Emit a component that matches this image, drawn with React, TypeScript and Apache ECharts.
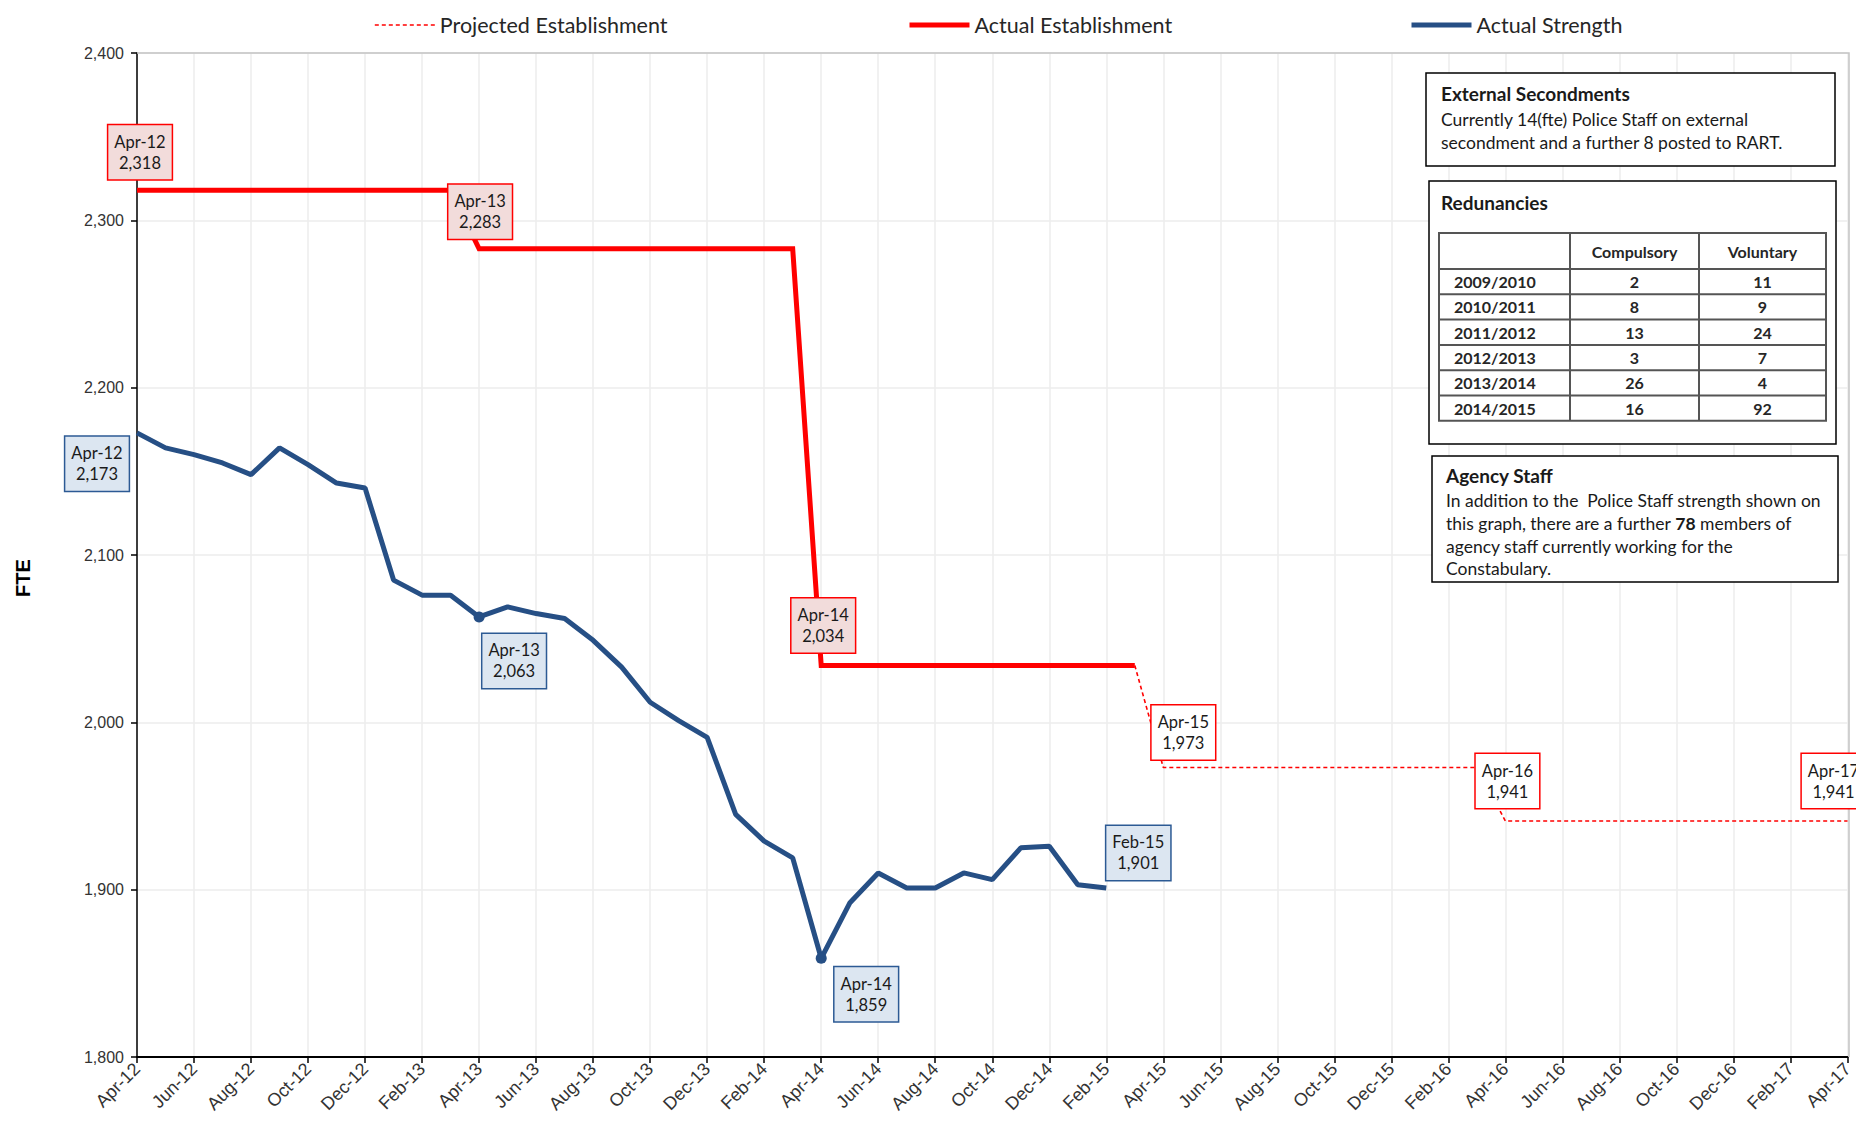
import React, { useEffect, useRef } from "react";
import * as echarts from "echarts";

const months = [
  "Apr-12", "May-12", "Jun-12", "Jul-12", "Aug-12", "Sep-12", "Oct-12", "Nov-12", "Dec-12", "Jan-13", "Feb-13", "Mar-13",
  "Apr-13", "May-13", "Jun-13", "Jul-13", "Aug-13", "Sep-13", "Oct-13", "Nov-13", "Dec-13", "Jan-14", "Feb-14", "Mar-14",
  "Apr-14", "May-14", "Jun-14", "Jul-14", "Aug-14", "Sep-14", "Oct-14", "Nov-14", "Dec-14", "Jan-15", "Feb-15", "Mar-15",
  "Apr-15", "May-15", "Jun-15", "Jul-15", "Aug-15", "Sep-15", "Oct-15", "Nov-15", "Dec-15", "Jan-16", "Feb-16", "Mar-16",
  "Apr-16", "May-16", "Jun-16", "Jul-16", "Aug-16", "Sep-16", "Oct-16", "Nov-16", "Dec-16", "Jan-17", "Feb-17", "Mar-17",
  "Apr-17",
];

const actualEstablishment = [
  2318, 2318, 2318, 2318, 2318, 2318, 2318, 2318, 2318, 2318, 2318, 2318,
  2283, 2283, 2283, 2283, 2283, 2283, 2283, 2283, 2283, 2283, 2283, 2283,
  2034, 2034, 2034, 2034, 2034, 2034, 2034, 2034, 2034, 2034, 2034, 2034,
  null, null, null, null, null, null, null, null, null, null, null, null,
  null, null, null, null, null, null, null, null, null, null, null, null,
  null,
];

const projectedEstablishment = [
  null, null, null, null, null, null, null, null, null, null, null, null,
  null, null, null, null, null, null, null, null, null, null, null, null,
  null, null, null, null, null, null, null, null, null, null, null, 2034,
  1973, 1973, 1973, 1973, 1973, 1973, 1973, 1973, 1973, 1973, 1973, 1973,
  1941, 1941, 1941, 1941, 1941, 1941, 1941, 1941, 1941, 1941, 1941, 1941,
  1941,
];

const actualStrength = [
  2173, 2164, 2160, 2155, 2148, 2164, 2154, 2143, 2140, 2085, 2076, 2076,
  2063, 2069, 2065, 2062, 2049, 2033, 2012, 2001, 1991, 1945, 1929, 1919,
  1859, 1892, 1910, 1901, 1901, 1910, 1906, 1925, 1926, 1903, 1901,
];

const establishmentLabelMonths = ["Apr-12", "Apr-13", "Apr-14"];
const projectedLabelMonths = ["Apr-15", "Apr-16", "Apr-17"];
const strengthLabelMonths = ["Apr-12", "Apr-13", "Apr-14", "Feb-15"];
const strengthMarkerMonths = ["Apr-13", "Apr-14"];

const redundancyYears = ["2009/2010", "2010/2011", "2011/2012", "2012/2013", "2013/2014", "2014/2015"];
const compulsory = [2, 8, 13, 3, 26, 16];
const voluntary = [11, 9, 24, 7, 4, 92];

// label offsets (layout only)
const labelOffsets: Record<string, Record<string, number[]>> = {
  est: { "Apr-12": [3, -38], "Apr-13": [1, -37], "Apr-14": [2, -40] },
  proj: { "Apr-15": [20, -35], "Apr-16": [2, -40], "Apr-17": [-14, -40] },
  str: { "Apr-12": [-40, 31], "Apr-13": [35, 44], "Apr-14": [45, 36], "Feb-15": [32, -35] },
};

const RED = "#ff0000";
const BLUE = "#264f85";
const CAL = "Lato";
const ARIAL = "Liberation Sans";

const fmt = (v: number) => v.toLocaleString("en-US");

function buildData(
  values: (number | null)[],
  labelMonths: string[],
  offsets: Record<string, number[]>,
  bg: string,
  border: string,
  markerMonths: string[] = []
) {
  return values.map((v, i) => {
    const m = months[i];
    if (v != null && labelMonths.includes(m)) {
      const marker = markerMonths.includes(m);
      return {
        value: v,
        symbol: "circle",
        symbolSize: marker ? 11 : 0,
        label: {
          show: true,
          position: "inside",
          offset: offsets[m],
          formatter: `${m}\n${fmt(v)}`,
          fontFamily: CAL,
          fontSize: 16.5,
          lineHeight: 21,
          color: "#1a1a1a",
          backgroundColor: bg,
          borderColor: border,
          borderWidth: 1.5,
          padding: [7, 6, 5, 6],
          align: "center",
          verticalAlign: "middle",
        },
      };
    }
    return v;
  });
}

function tableGraphics() {
  const x0 = 1439, x1 = 1570, x2 = 1699, x3 = 1826;
  const yTop = 233, yHead = 269, rowH = 25.3;
  const yBottom = yHead + rowH * redundancyYears.length;
  const els: any[] = [];
  els.push({
    type: "rect",
    shape: { x: x0, y: yTop, width: x3 - x0, height: yBottom - yTop },
    style: { fill: "#fff", stroke: "#555", lineWidth: 2 },
  });
  [x1, x2].forEach((x) =>
    els.push({ type: "line", shape: { x1: x, y1: yTop, x2: x, y2: yBottom }, style: { stroke: "#555", lineWidth: 2 } })
  );
  for (let r = 0; r <= redundancyYears.length - 1; r++) {
    const y = yHead + rowH * r;
    els.push({ type: "line", shape: { x1: x0, y1: y, x2: x3, y2: y }, style: { stroke: "#555", lineWidth: 2 } });
  }
  const txt = (text: string, x: number, y: number, align: string) => ({
    type: "text",
    style: { text, x, y, fontFamily: CAL, fontSize: 16, fontWeight: "bold", fill: "#262626", align, verticalAlign: "middle" },
  });
  els.push(txt("Compulsory", (x1 + x2) / 2, (yTop + yHead) / 2, "center"));
  els.push(txt("Voluntary", (x2 + x3) / 2, (yTop + yHead) / 2, "center"));
  redundancyYears.forEach((yr, i) => {
    const y = yHead + rowH * i + rowH / 2;
    els.push(txt(yr, x0 + 15, y, "left"));
    els.push(txt(String(compulsory[i]), (x1 + x2) / 2, y, "center"));
    els.push(txt(String(voluntary[i]), (x2 + x3) / 2, y, "center"));
  });
  return els;
}

function boxText(text: string, x: number, y: number, bold = false, size = 17.5, rich?: any) {
  return {
    type: "text",
    style: {
      text,
      x,
      y,
      fontFamily: CAL,
      fontSize: size,
      fontWeight: bold ? "bold" : "normal",
      fill: "#1a1a1a",
      align: "left",
      verticalAlign: "middle",
      rich,
    },
  };
}

export default function App() {
  const ref = useRef<HTMLDivElement>(null);
  useEffect(() => {
    document.body.style.margin = "0";
    if (!ref.current) return;
    const chart = echarts.init(ref.current, undefined, { renderer: "svg" });
    const legendBase = {
      top: 14,
      itemWidth: 60,
      itemHeight: 14,
      padding: 0,
      itemGap: 0,
      itemStyle: { opacity: 0, borderWidth: 0 },
      textStyle: { fontFamily: CAL, fontSize: 21.5, color: "#262626" },
    };
    const boxChildren = [
      { type: "rect", shape: { x: 1426, y: 73, width: 409, height: 93 }, style: { fill: "#fff", stroke: "#000", lineWidth: 1.5 } },
      boxText("External Secondments", 1441, 93, true, 19),
      boxText("Currently 14(fte) Police Staff on external", 1441, 119),
      boxText("secondment and a further 8 posted to RART.", 1441, 142),
      { type: "rect", shape: { x: 1429, y: 181, width: 407, height: 263 }, style: { fill: "#fff", stroke: "#000", lineWidth: 1.5 } },
      boxText("Redunancies", 1441, 202, true, 19),
      ...tableGraphics(),
      { type: "rect", shape: { x: 1432, y: 456, width: 406, height: 126 }, style: { fill: "#fff", stroke: "#000", lineWidth: 1.5 } },
      boxText("Agency Staff", 1446, 475, true, 19),
      boxText("In addition to the  Police Staff strength shown on", 1446, 500),
      boxText("this graph, there are a further {b|78} members of", 1446, 523, false, 17.5, {
        b: { fontFamily: CAL, fontSize: 17.5, fontWeight: "bold", fill: "#1a1a1a" },
      }),
      boxText("agency staff currently working for the", 1446, 546),
      boxText("Constabulary.", 1446, 568),
    ].map((el: any, i: number) => ({ ...el, z: 100 + i }));

    const option: any = {
      animation: false,
      backgroundColor: "#fff",
      legend: [
        { ...legendBase, left: 374, data: ["Projected Establishment"], lineStyle: { width: 1.6, type: [4, 3], color: RED } },
        { ...legendBase, left: 907, data: ["Actual Establishment"], lineStyle: { width: 5, color: RED } },
        { ...legendBase, left: 1409, data: ["Actual Strength"], lineStyle: { width: 5, color: BLUE } },
      ],
      grid: { left: 137, right: 7, top: 53, bottom: 68, containLabel: false },
      xAxis: {
        type: "category",
        data: months,
        boundaryGap: false,
        axisLine: { lineStyle: { color: "#000", width: 2 } },
        axisTick: { show: true, interval: 1, length: 6, lineStyle: { color: "#000", width: 1.5 } },
        axisLabel: { interval: 1, rotate: 45, fontFamily: ARIAL, fontSize: 18, color: "#333", margin: 9 },
        splitLine: { show: true, interval: 1, lineStyle: { color: "#ececec", width: 1.5 } },
      },
      yAxis: {
        type: "value",
        min: 1800,
        max: 2400,
        interval: 100,
        axisLine: { show: true, lineStyle: { color: "#000", width: 1.5 } },
        axisTick: { show: true, length: 6, lineStyle: { color: "#000", width: 1.5 } },
        axisLabel: {
          formatter: (v: number) => fmt(v),
          fontFamily: ARIAL,
          fontSize: 16,
          color: "#333",
          margin: 13,
        },
        splitLine: { lineStyle: { color: "#ececec", width: 1.5 } },
      },
      series: [
        {
          name: "Projected Establishment",
          type: "line",
          data: buildData(projectedEstablishment, projectedLabelMonths, labelOffsets.proj, "#ffffff", RED),
          symbol: "none",
          showAllSymbol: true,
          connectNulls: false,
          lineStyle: { color: RED, width: 1.6, type: [4, 3] },
          itemStyle: { color: RED },
          emphasis: { disabled: true },
          z: 3,
        },
        {
          name: "Actual Establishment",
          type: "line",
          data: buildData(actualEstablishment, establishmentLabelMonths, labelOffsets.est, "#f2dcdb", RED),
          symbol: "none",
          showAllSymbol: true,
          lineStyle: { color: RED, width: 5, join: "miter" },
          itemStyle: { color: RED },
          emphasis: { disabled: true },
          z: 4,
        },
        {
          name: "Actual Strength",
          type: "line",
          data: buildData(actualStrength, strengthLabelMonths, labelOffsets.str, "#dce6f1", "#2c5a94", strengthMarkerMonths),
          symbol: "none",
          showAllSymbol: true,
          lineStyle: { color: BLUE, width: 5 },
          itemStyle: { color: BLUE },
          emphasis: { disabled: true },
          z: 5,
        },
      ],
      graphic: [
        {
          type: "polyline",
          shape: { points: [[137, 53], [1849, 53], [1849, 1057]] },
          style: { stroke: "#c4c4c4", lineWidth: 1.5, fill: null },
          z: 1,
        },
        {
          type: "text",
          x: 23,
          y: 578,
          rotation: Math.PI / 2,
          style: {
            text: "FTE",
            fontFamily: ARIAL,
            fontSize: 20,
            fontWeight: "bold",
            fill: "#000",
            align: "center",
            verticalAlign: "middle",
          },
        },
        ...boxChildren,
      ],
    };
    chart.setOption(option);
    return () => chart.dispose();
  }, []);
  return <div ref={ref} style={{ position: "fixed", left: 0, top: 0, width: 1856, height: 1125 }} />;
}
